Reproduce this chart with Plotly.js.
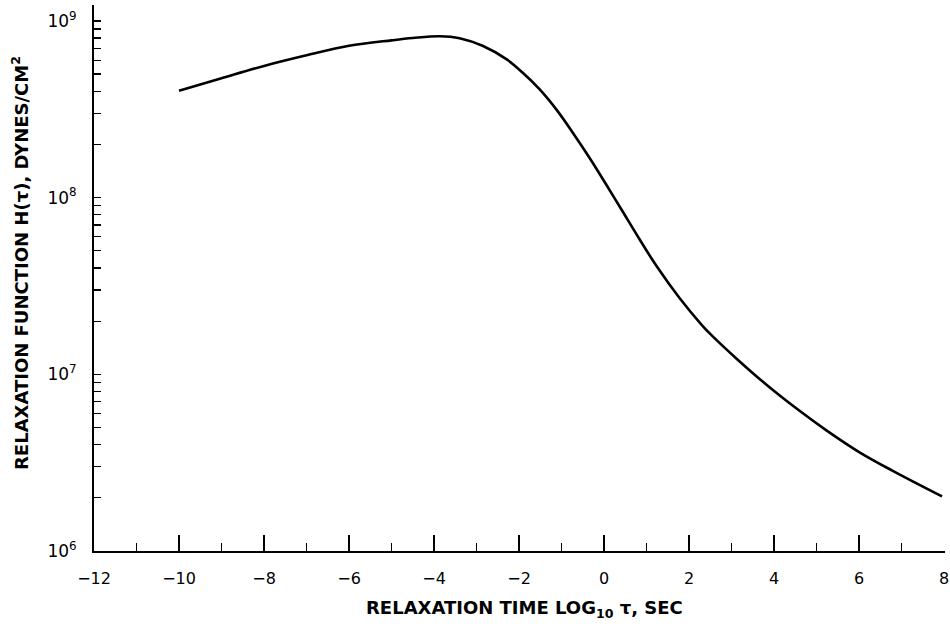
<!DOCTYPE html>
<html>
<head>
<meta charset="utf-8">
<script src="https://cdn.plot.ly/plotly-3.0.1.min.js"></script>
<style>html,body{margin:0;padding:0;background:#fff;}#chart{width:950px;height:629px;}</style>
</head>
<body>
<div id="chart"></div>
<script>
// log10 of relaxation time (s)
const logTau = [-10, -9, -8, -7, -6, -5, -4.5, -3.87, -3.4, -2.86, -2.29, -1.92, -1.52, -1.12, -0.74, -0.34, 0.06, 0.43, 0.83, 1.23, 1.77, 2.31, 2.55, 3.11, 3.82, 4.59, 5.23, 6.0, 6.78, 7.95];
// relaxation function H(tau), dynes/cm^2
const H = [4.018e8, 4.732e8, 5.559e8, 6.383e8, 7.228e8, 7.762e8, 7.998e8, 8.185e8, 7.980e8, 7.228e8, 6.053e8, 5.105e8, 4.111e8, 3.148e8, 2.339e8, 1.675e8, 1.175e8, 8.395e7, 5.834e7, 4.111e7, 2.710e7, 1.888e7, 1.644e7, 1.230e7, 8.730e6, 6.237e6, 4.819e6, 3.631e6, 2.851e6, 2.037e6];

const xMajorTicks = [-12, -10, -8, -6, -4, -2, 0, 2, 4, 6, 8];
const xMajorLabels = ['\u221212', '\u221210', '\u22128', '\u22126', '\u22124', '\u22122', '0', '2', '4', '6', '8'];
const yDecades = [1e6, 1e7, 1e8, 1e9];
const yDecadeLabels = ['10<sup>6</sup>', '10<sup>7</sup>', '10<sup>8</sup>', '10<sup>9</sup>'];
const mantissas = [2, 3, 4, 5, 6, 7, 8, 9];

const yMinorVals = [];
yDecades.forEach(d => mantissas.forEach(m => { if (d * m < 1.3e9) yMinorVals.push(d * m); }));

const tickFont = 'DejaVu Sans, Liberation Sans, Arial, sans-serif';
const titleFont = 'DejaVu Sans, Liberation Sans, Arial, sans-serif';

const trace = {
  x: logTau,
  y: H,
  type: 'scatter',
  mode: 'lines',
  line: {color: '#000', width: 2.6, shape: 'spline', smoothing: 1},
  hoverinfo: 'skip'
};

const layout = {
  width: 950,
  height: 629,
  margin: {l: 94, r: 5, t: 5, b: 78},
  paper_bgcolor: '#fff',
  plot_bgcolor: '#fff',
  showlegend: false,
  font: {family: tickFont, color: '#000'},
  xaxis: {
    range: [-12, 8.02],
    tickmode: 'array',
    tickvals: xMajorTicks,
    ticktext: xMajorLabels,
    ticks: 'inside',
    ticklen: 16,
    tickwidth: 1.5,
    tickcolor: '#000',
    showline: true,
    linecolor: '#000',
    linewidth: 2,
    showgrid: false,
    zeroline: false,
    ticklabelstandoff: 12,
    ticklabeloverflow: 'allow',
    tickfont: {family: tickFont, size: 16, color: '#000'},
    minor: {tickmode: 'linear', dtick: 1, tick0: -12, ticks: 'inside', ticklen: 8, tickwidth: 1.2, tickcolor: '#000', showgrid: false}
  },
  yaxis: {
    type: 'log',
    range: [6, 9.09],
    tickmode: 'array',
    tickvals: yDecades,
    ticktext: yDecadeLabels,
    ticks: 'inside',
    ticklen: 7,
    tickwidth: 1.5,
    tickcolor: '#000',
    showline: true,
    linecolor: '#000',
    linewidth: 2,
    showgrid: false,
    zeroline: false,
    ticklabelstandoff: 12,
    tickfont: {family: tickFont, size: 17, color: '#000'},
    minor: {tickmode: 'array', tickvals: yMinorVals, ticks: 'inside', ticklen: 7, tickwidth: 1.2, tickcolor: '#000', showgrid: false}
  },
  annotations: [
    {
      text: 'RELAXATION TIME LOG<sub>10</sub> \u03c4, SEC',
      xref: 'paper', yref: 'paper',
      x: (524 - 94) / 851, y: (551 - 609) / 546,
      xanchor: 'center', yanchor: 'middle',
      showarrow: false,
      font: {family: titleFont, size: 18, color: '#000', weight: 'bold'}
    },
    {
      text: 'RELAXATION FUNCTION H(\u03c4), DYNES/CM<sup>2</sup>',
      xref: 'paper', yref: 'paper',
      x: (20 - 94) / 851, y: (551 - 263) / 546,
      xanchor: 'center', yanchor: 'middle',
      textangle: -90,
      showarrow: false,
      font: {family: titleFont, size: 18, color: '#000', weight: 'bold'}
    }
  ]
};

Plotly.newPlot('chart', [trace], layout, {staticPlot: true, displayModeBar: false});
</script>
</body>
</html>
